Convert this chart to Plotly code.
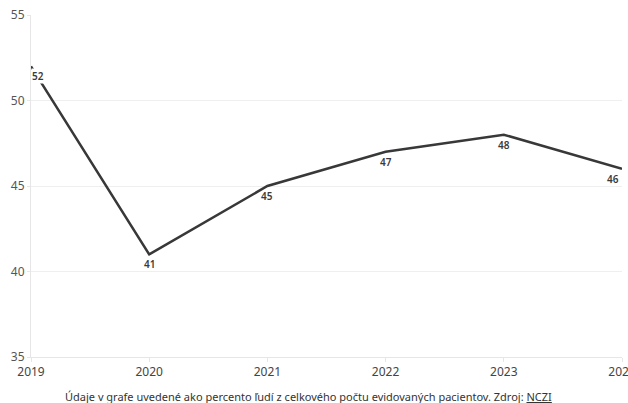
import plotly.graph_objects as go

years = [2019, 2020, 2021, 2022, 2023, 2024]
values = [52, 41, 45, 47, 48, 46]
y_ticks = [35, 40, 45, 50, 55]
x_ticks = [2019, 2020, 2021, 2022, 2023, 2024]
caption = "Údaje v grafe uvedené ako percento ľudí z celkového počtu evidovaných pacientov. Zdroj: <u>NCZI</u>"

FONT = "Noto Sans"

fig = go.Figure()
fig.add_trace(go.Scatter(
    x=years, y=values, mode="lines",
    line=dict(color="#383838", width=2.5),
    hoverinfo="skip", showlegend=False,
))

for i, (x, y) in enumerate(zip(years, values)):
    if i == 0:
        xa = "left"
    elif i == len(years) - 1:
        xa = "right"
    else:
        xa = "center"
    fig.add_annotation(
        x=x, y=y, xref="x", yref="y", text=str(y),
        showarrow=False, xanchor=xa, yanchor="middle", yshift=-10,
        xshift=(-2 if xa == "right" else 0),
        bgcolor=("white" if i == 0 else "rgba(0,0,0,0)"), borderpad=0,
        font=dict(family=FONT, size=10, color="#3a3a3a", weight=600),
    )

fig.add_annotation(
    x=0.47, y=0, xref="paper", yref="paper", yshift=-39,
    text=caption, showarrow=False, xanchor="center", yanchor="middle",
    font=dict(family=FONT, size=11, color="#333333"),
)

fig.update_layout(
    width=628, height=403,
    margin=dict(l=31, r=6, t=15, b=46, autoexpand=False),
    paper_bgcolor="white", plot_bgcolor="white",
    font=dict(family=FONT, size=12, color="#555555"),
)
fig.update_xaxes(
    range=[2019, 2024], tickvals=x_ticks, ticktext=[str(t) for t in x_ticks],
    showgrid=False, zeroline=False, automargin=False,
    showline=True, linecolor="#e6e6e6", linewidth=1,
    ticks="outside", ticklen=4, tickcolor="#e6e6e6",
    ticklabeloverflow="allow",
    tickfont=dict(family=FONT, size=12, color="#444444"),
)
fig.update_yaxes(
    range=[35, 55], tickvals=y_ticks, automargin=False,
    showgrid=True, gridcolor="#efefef", gridwidth=1, zeroline=False,
    showline=True, linecolor="#e6e6e6", linewidth=1,
    ticks="outside", ticklen=3, tickcolor="#e6e6e6",
    tickfont=dict(family=FONT, size=12, color="#555555"),
)

fig.write_html("out.html", config={"displayModeBar": False},
               post_script="document.body.style.margin='0';")
